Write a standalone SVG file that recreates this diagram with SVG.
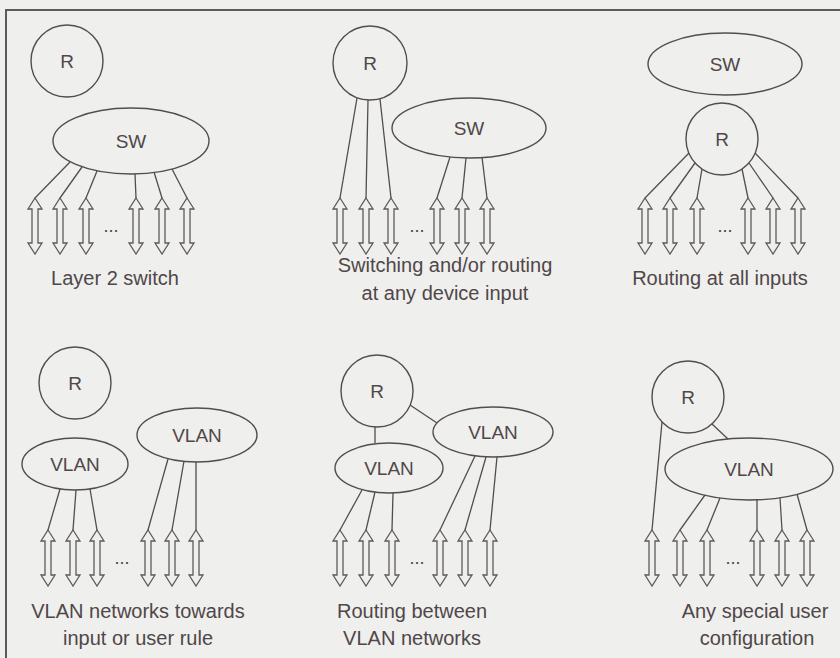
<svg xmlns="http://www.w3.org/2000/svg" xmlns:xlink="http://www.w3.org/1999/xlink" width="840" height="658" viewBox="0 0 840 658">
<style>
.bg{fill:#efefed}
.frame{fill:none;stroke:#5f595b;stroke-width:2}
.node{fill:none;stroke:#544c4e;stroke-width:1.4}
.conn line{stroke:#544c4e;stroke-width:1.3}
.arr{fill:none;stroke:#5f595b;stroke-width:1.3;stroke-linejoin:miter}
text{font-family:"Liberation Sans",Arial,Helvetica,sans-serif;fill:#4f4749;text-anchor:middle}
.lbl{font-size:19px}
.cap{font-size:20px}
.dots{font-size:18px}
</style>
<defs>
<path id="darrow" class="arr" d="M0,0 L7,11 L3,11 L3,45 L7,45 L0,56 L-7,45 L-3,45 L-3,11 L-7,11 Z"/>
</defs>
<rect class="bg" x="0" y="0" width="840" height="658"/>
<path class="frame" d="M6,658 L6,10 L840,10"/>

<g id="connectors" class="conn">
<!-- panel 1 -->
<line x1="70" y1="162" x2="35" y2="198"/>
<line x1="82" y1="167" x2="60" y2="198"/>
<line x1="97" y1="171" x2="86" y2="198"/>
<line x1="135" y1="174" x2="136" y2="198"/>
<line x1="154" y1="172" x2="162" y2="198"/>
<line x1="172" y1="169" x2="187" y2="198"/>
<!-- panel 2 -->
<line x1="357" y1="98" x2="340" y2="198"/>
<line x1="368" y1="100" x2="366" y2="198"/>
<line x1="380" y1="99" x2="391" y2="198"/>
<line x1="450" y1="157" x2="437" y2="198"/>
<line x1="466" y1="158" x2="462" y2="198"/>
<line x1="482" y1="157" x2="487" y2="198"/>
<!-- panel 3 -->
<line x1="689" y1="153" x2="645" y2="198"/>
<line x1="695" y1="163" x2="670" y2="198"/>
<line x1="702" y1="169" x2="697" y2="198"/>
<line x1="742" y1="169" x2="748" y2="198"/>
<line x1="749" y1="163" x2="773" y2="198"/>
<line x1="755" y1="153" x2="798" y2="198"/>
<!-- panel 4 -->
<line x1="60" y1="489" x2="48" y2="530"/>
<line x1="76" y1="490" x2="73" y2="530"/>
<line x1="90" y1="489" x2="97" y2="530"/>
<line x1="168" y1="459" x2="148" y2="530"/>
<line x1="184" y1="461" x2="172" y2="530"/>
<line x1="196" y1="462" x2="196" y2="530"/>
<!-- panel 5 -->
<line x1="375" y1="427" x2="375" y2="443"/>
<line x1="410" y1="405" x2="437" y2="423"/>
<line x1="362" y1="490" x2="340" y2="530"/>
<line x1="375" y1="492" x2="366" y2="530"/>
<line x1="393" y1="493" x2="392" y2="530"/>
<line x1="475" y1="456" x2="440" y2="530"/>
<line x1="486" y1="457" x2="465" y2="530"/>
<line x1="497" y1="457" x2="490" y2="530"/>
<!-- panel 6 -->
<line x1="712" y1="424" x2="728" y2="439"/>
<line x1="662" y1="422" x2="652" y2="530"/>
<line x1="705" y1="495" x2="680" y2="530"/>
<line x1="720" y1="498" x2="707" y2="530"/>
<line x1="757" y1="500" x2="757" y2="530"/>
<line x1="780" y1="498" x2="782" y2="530"/>
<line x1="797" y1="494" x2="807" y2="530"/>
</g>

<g id="panel1">
<g id="p1-R"><circle class="node" cx="67" cy="61" r="36"/><text class="lbl" x="67" y="68">R</text></g>
<g id="p1-SW"><ellipse class="node" cx="131" cy="141" rx="78" ry="33"/><text class="lbl" x="131" y="148">SW</text></g>
<g id="p1-ports">
<use href="#darrow" x="35" y="198"/><use href="#darrow" x="60" y="198"/><use href="#darrow" x="86" y="198"/>
<use href="#darrow" x="136" y="198"/><use href="#darrow" x="162" y="198"/><use href="#darrow" x="187" y="198"/>
<text class="dots" x="111" y="232">...</text>
</g>
<text class="cap" x="115" y="285">Layer 2 switch</text>
</g>

<g id="panel2">
<g id="p2-R"><circle class="node" cx="370" cy="63" r="37"/><text class="lbl" x="370" y="70">R</text></g>
<g id="p2-SW"><ellipse class="node" cx="469" cy="128" rx="77" ry="30"/><text class="lbl" x="469" y="135">SW</text></g>
<g id="p2-ports">
<use href="#darrow" x="340" y="198"/><use href="#darrow" x="366" y="198"/><use href="#darrow" x="391" y="198"/>
<use href="#darrow" x="437" y="198"/><use href="#darrow" x="462" y="198"/><use href="#darrow" x="487" y="198"/>
<text class="dots" x="417" y="232">...</text>
</g>
<text class="cap" x="445" y="272">Switching and/or routing</text>
<text class="cap" x="445" y="300">at any device input</text>
</g>

<g id="panel3">
<g id="p3-SW"><ellipse class="node" cx="725" cy="64" rx="77" ry="31"/><text class="lbl" x="725" y="71">SW</text></g>
<g id="p3-R"><circle class="node" cx="722" cy="139" r="36"/><text class="lbl" x="722" y="146">R</text></g>
<g id="p3-ports">
<use href="#darrow" x="645" y="198"/><use href="#darrow" x="670" y="198"/><use href="#darrow" x="697" y="198"/>
<use href="#darrow" x="748" y="198"/><use href="#darrow" x="773" y="198"/><use href="#darrow" x="798" y="198"/>
<text class="dots" x="725" y="232">...</text>
</g>
<text class="cap" x="720" y="285">Routing at all inputs</text>
</g>

<g id="panel4">
<g id="p4-R"><circle class="node" cx="75" cy="383" r="36"/><text class="lbl" x="75" y="390">R</text></g>
<g id="p4-VLAN1"><ellipse class="node" cx="75" cy="464" rx="53" ry="26"/><text class="lbl" x="75" y="471">VLAN</text></g>
<g id="p4-VLAN2"><ellipse class="node" cx="197" cy="435" rx="60" ry="27"/><text class="lbl" x="197" y="442">VLAN</text></g>
<g id="p4-ports">
<use href="#darrow" x="48" y="530"/><use href="#darrow" x="73" y="530"/><use href="#darrow" x="97" y="530"/>
<use href="#darrow" x="148" y="530"/><use href="#darrow" x="172" y="530"/><use href="#darrow" x="196" y="530"/>
<text class="dots" x="122" y="564">...</text>
</g>
<text class="cap" x="138" y="618">VLAN networks towards</text>
<text class="cap" x="138" y="645">input or user rule</text>
</g>

<g id="panel5">
<g id="p5-R"><circle class="node" cx="377" cy="391" r="36"/><text class="lbl" x="377" y="398">R</text></g>
<g id="p5-VLAN1"><ellipse class="node" cx="389" cy="468" rx="54" ry="25"/><text class="lbl" x="389" y="475">VLAN</text></g>
<g id="p5-VLAN2"><ellipse class="node" cx="493" cy="432" rx="60" ry="25"/><text class="lbl" x="493" y="439">VLAN</text></g>
<g id="p5-ports">
<use href="#darrow" x="340" y="530"/><use href="#darrow" x="366" y="530"/><use href="#darrow" x="392" y="530"/>
<use href="#darrow" x="440" y="530"/><use href="#darrow" x="465" y="530"/><use href="#darrow" x="490" y="530"/>
<text class="dots" x="417" y="564">...</text>
</g>
<text class="cap" x="412" y="618">Routing between</text>
<text class="cap" x="412" y="645">VLAN networks</text>
</g>

<g id="panel6">
<g id="p6-R"><circle class="node" cx="688" cy="397" r="36"/><text class="lbl" x="688" y="404">R</text></g>
<g id="p6-VLAN"><ellipse class="node" cx="749" cy="469" rx="84" ry="31"/><text class="lbl" x="749" y="476">VLAN</text></g>
<g id="p6-ports">
<use href="#darrow" x="652" y="530"/><use href="#darrow" x="680" y="530"/><use href="#darrow" x="707" y="530"/>
<use href="#darrow" x="757" y="530"/><use href="#darrow" x="782" y="530"/><use href="#darrow" x="807" y="530"/>
<text class="dots" x="733" y="564">...</text>
</g>
<text class="cap" x="755" y="618">Any special user</text>
<text class="cap" x="757" y="645">configuration</text>
</g>
</svg>
